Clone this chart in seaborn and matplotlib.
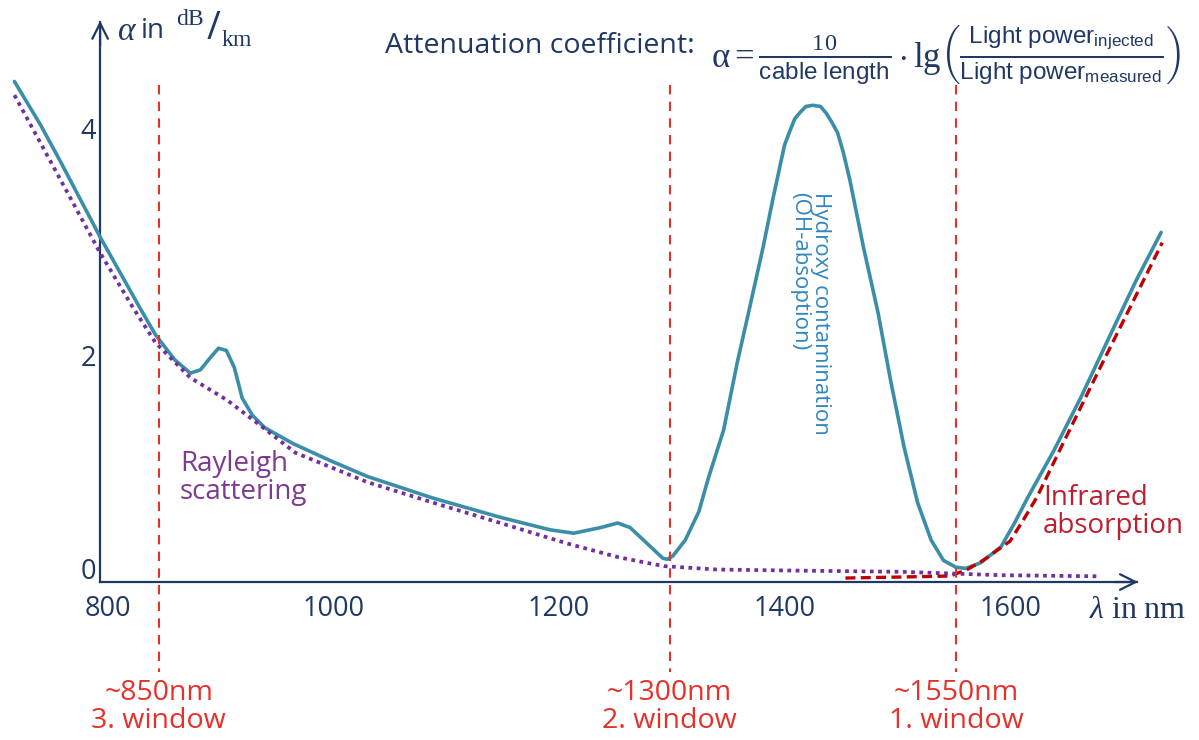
import matplotlib
matplotlib.use("Agg")
import matplotlib.pyplot as plt
import matplotlib.transforms as mtransforms
import seaborn as sns
import pandas as pd

# ---------------- data ----------------
total_nm = [717, 740, 757, 793, 828, 842, 859, 873, 882, 891,
            898, 905, 912, 919, 928, 939, 964, 997, 1030, 1088,
            1148, 1192, 1213, 1237, 1252, 1263, 1277, 1292, 1296, 1301, 1312,
            1324, 1332, 1346, 1358, 1368, 1381, 1390, 1400, 1405, 1409, 1414, 1419,
            1425, 1432, 1437, 1442, 1447, 1452, 1458, 1470, 1483, 1494, 1506, 1518,
            1530, 1541, 1552, 1561, 1574, 1592, 1604, 1616, 1639, 1663, 1690, 1712, 1734]
total_att = [4.41, 4.03, 3.72, 3.04, 2.42, 2.18, 1.96, 1.84, 1.87, 1.98,
             2.06, 2.04, 1.89, 1.62, 1.47, 1.36, 1.22, 1.07, 0.93, 0.74,
             0.57, 0.46, 0.43, 0.48, 0.52, 0.48, 0.35, 0.21, 0.20, 0.23, 0.37,
             0.62, 0.90, 1.34, 1.93, 2.37, 2.95, 3.39, 3.85, 3.98, 4.08, 4.14, 4.19,
             4.20, 4.19, 4.13, 4.05, 3.96, 3.79, 3.54, 2.95, 2.37, 1.78, 1.19, 0.70,
             0.37, 0.19, 0.13, 0.12, 0.17, 0.31, 0.52, 0.75, 1.16, 1.63, 2.20, 2.66, 3.08]

rayleigh_nm = [717, 757, 793, 822, 842, 873, 906, 935, 966, 1030,
               1088, 1148, 1207, 1252, 1272, 1293, 1340, 1414, 1503, 1592, 1680]
rayleigh_att = [4.29, 3.56, 2.90, 2.42, 2.11, 1.80, 1.60, 1.38, 1.14, 0.88,
                0.70, 0.52, 0.34, 0.22, 0.18, 0.14, 0.11, 0.10, 0.09, 0.06, 0.05]

infrared_nm = [1454, 1503, 1547, 1562, 1576, 1600, 1612, 1624, 1644, 1680, 1735]
infrared_att = [0.035, 0.044, 0.053, 0.11, 0.19, 0.36, 0.55, 0.75, 1.16, 1.89, 2.99]

window_nm = [845, 1298, 1552]
window_labels = ["~850nm\n3. window", "~1300nm\n2. window", "~1550nm\n1. window"]

x_ticks = [800, 1000, 1200, 1400, 1600]
x_ticklabels = ["800", "1000", "1200", "1400", "1600"]
y_ticks = [0, 2, 4]
y_ticklabels = ["0", "2", "4"]

# ---------------- style ----------------
sns.set_theme(style="white")
plt.rcParams["font.family"] = ["Open Sans", "DejaVu Sans"]
plt.rcParams["mathtext.fontset"] = "custom"
plt.rcParams["mathtext.rm"] = "Liberation Serif"
plt.rcParams["mathtext.it"] = "Liberation Serif:italic"
plt.rcParams["mathtext.bf"] = "Liberation Serif:bold"
plt.rcParams["mathtext.sf"] = "Liberation Sans"

NAVY = "#1f3864"
BLUE = "#3b8ea7"
PURPLE = "#7030a0"
PURPLE_TXT = "#7e3a92"
IR_RED = "#c00000"
IR_TXT = "#bf1e2e"
WIN_RED = "#e8302a"
HYD_TXT = "#2e86c1"

W, H = 1199, 740
fig = plt.figure(figsize=(W / 100, H / 100), dpi=100)
ax = fig.add_axes([0, 0, 1, 1])
ax.set_xlim(704.2, 1767.6)
ax.set_ylim(-1.392, 5.128)
ax.set_facecolor("white")


def P(x, y):
    return x / W, 1 - y / H


df_total = pd.DataFrame({"nm": total_nm, "att": total_att})
df_ray = pd.DataFrame({"nm": rayleigh_nm, "att": rayleigh_att})
df_ir = pd.DataFrame({"nm": infrared_nm, "att": infrared_att})

sns.lineplot(data=df_total, x="nm", y="att", ax=ax, color=BLUE, linewidth=2.6,
             zorder=3, solid_capstyle="round", solid_joinstyle="round")
sns.lineplot(data=df_ir, x="nm", y="att", ax=ax, color=IR_RED, linewidth=2.4,
             linestyle=(0, (3, 1.6)), zorder=4)
sns.lineplot(data=df_ray, x="nm", y="att", ax=ax, color=PURPLE, linewidth=2.7,
             linestyle=(0, (1, 1.2)), zorder=5)

for xw, lab in zip(window_nm, window_labels):
    ax.plot([xw, xw], [4.38, -0.79], color=WIN_RED, linewidth=1.5,
            linestyle=(0, (4.5, 3.5)), zorder=6)
    ax.text(xw, -1.10, lab, color=WIN_RED, fontsize=20.5, ha="center",
            va="center", linespacing=1.0)

# axes as arrows
for s in ["top", "right"]:
    ax.spines[s].set_visible(False)
ax.spines["left"].set_position(("data", 793))
ax.spines["bottom"].set_position(("data", 0))
ax.spines["left"].set_bounds(0, 4.93)
ax.spines["bottom"].set_bounds(793, 1713)
for s in ["left", "bottom"]:
    ax.spines[s].set_color(NAVY)
    ax.spines[s].set_linewidth(1.6)
    ax.spines[s].set_zorder(2)
ax.annotate("", xy=(1716, 0), xytext=(1690, 0),
            arrowprops=dict(arrowstyle="->", color=NAVY, lw=1.6, mutation_scale=28))
ax.annotate("", xy=(793, 4.97), xytext=(793, 4.7),
            arrowprops=dict(arrowstyle="->", color=NAVY, lw=1.6, mutation_scale=28))

ax.set_xticks(x_ticks, x_ticklabels)
ax.set_yticks(y_ticks, y_ticklabels)
ax.tick_params(axis="both", length=0, labelsize=19.5, colors=NAVY)
ax.tick_params(axis="x", pad=9)
ax.tick_params(axis="y", pad=3)
ax.grid(False)
ax.set_xlabel("")
ax.set_ylabel("")
lab0 = ax.get_yticklabels()[0]
lab0.set_transform(lab0.get_transform() +
                   mtransforms.ScaledTranslation(0, 0.14, fig.dpi_scale_trans))

# axis titles
fig.text(*P(117, 31), r"$\alpha$", fontsize=24, color=NAVY, ha="left", va="center")
fig.text(*P(141, 31), "in", fontsize=20, color=NAVY, ha="left", va="center")
fig.text(*P(176, 19), r"$\mathrm{dB}$", fontsize=17, color=NAVY, ha="left", va="center")
fig.text(*P(213, 29), "/", fontsize=27, color=NAVY, ha="center", va="center")
fig.text(*P(221, 40), r"$\mathrm{km}$", fontsize=17, color=NAVY, ha="left", va="center")
fig.text(*P(1089, 610), r"$\lambda\ \mathrm{in\ nm}$", fontsize=23,
         color=NAVY, ha="left", va="center")

# formula
fig.text(*P(385, 46), "Attenuation coefficient:", fontsize=20.5, color=NAVY,
         ha="left", va="center")
fig.text(*P(711, 55),
         r"$\mathrm{\alpha} = \frac{10}{\mathsf{cable\ length}}\cdot\mathrm{lg}"
         r"\left(\frac{\mathsf{Light\ power}_{\mathsf{injected}}}"
         r"{\mathsf{Light\ power}_{\mathsf{measured}}}\right)$",
         fontsize=25, color=NAVY, ha="left", va="center")

# annotations
fig.text(*P(180, 450), "Rayleigh\nscattering", fontsize=20, color=PURPLE_TXT,
         ha="left", va="top", linespacing=1.0)
fig.text(*P(1043, 484), "Infrared\nabsorption", fontsize=20, color=IR_TXT,
         ha="left", va="top", linespacing=1.0)
fig.text(*P(810, 192), "Hydroxy contamination\n(OH-absoption)", fontsize=16,
         color=HYD_TXT, rotation=-90, ha="center", va="top",
         multialignment="left", linespacing=1.0)

fig.savefig("out.png", dpi=100, facecolor="white")
